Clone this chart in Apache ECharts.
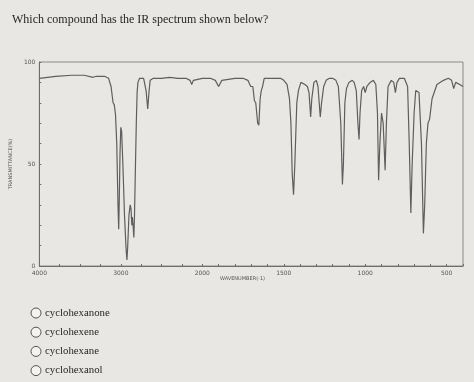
<!DOCTYPE html>
<html>
<head>
<meta charset="utf-8">
<script src="https://cdn.jsdelivr.net/npm/echarts@6/dist/echarts.min.js"></script>
<style>
html,body{margin:0;padding:0;background:#e9e7e3;}
#c{width:474px;height:382px;}
</style>
</head>
<body>
<div id="c"></div>
<script>
// ---- data ----
const questionText = "Which compound has the IR spectrum shown below?";
const answerOptions = ["cyclohexanone", "cyclohexene", "cyclohexane", "cyclohexanol"];
const xTickLabels = [4000, 3000, 2000, 1500, 1000, 500];
const yTickLabels = [0, 50, 100];
const xMinorTicks = [3750, 3500, 3250, 2750, 2500, 2250, 1900, 1800, 1700, 1600, 1400, 1300, 1200, 1100, 900, 800, 700, 600, 400];
const wavenumbers = [4000,3900,3800,3600,3450,3340,3300,3200,3150,3120,3095,3080,3065,3050,3035,3026,3020,3010,3000,2990,2975,2955,2935,2925,2915,2900,2885,2875,2865,2858,2850,2840,2832,2820,2810,2800,2790,2770,2720,2690,2670,2655,2640,2600,2500,2400,2300,2200,2150,2130,2110,2000,1950,1920,1900,1880,1800,1750,1720,1703,1690,1680,1672,1660,1653,1645,1638,1630,1620,1600,1560,1520,1500,1480,1465,1456,1448,1440,1432,1420,1410,1395,1370,1355,1345,1335,1328,1315,1300,1290,1276,1268,1255,1240,1220,1200,1180,1165,1150,1140,1134,1125,1115,1100,1080,1068,1055,1045,1038,1032,1022,1010,1000,990,970,950,935,925,918,910,900,890,878,870,860,840,825,815,805,790,760,740,730,720,712,700,690,670,655,643,635,625,615,605,590,560,520,490,470,457,445,420,400];
const transmittance = [92,92.5,93,93.5,93.5,92.5,93,93,92,88,80,79,74,60,30,18,30,55,68,66,50,25,8,3,10,25,30,28,20,24,20,14,25,50,70,85,90,92,92,86,77,85,91,92,92,92.5,92,92,91,89,91,92,92,91,88,91,92,92,91,88,88,81,80,70,69,82,86,88,92,92,92,92,91,89,82,70,45,35,50,80,86,90,89,88,85,73,82,90,91,88,73,80,88,91,92,92,91,88,70,40,50,80,87,90,91,90,86,70,62,75,86,88,85,88,90,91,89,75,42,60,75,70,47,70,88,91,90,85,90,92,92,88,60,26,50,75,86,85,60,16,30,60,70,72,82,89,91,92,91,87,90,89,88];

// ---- axis transform: 4000-2000 at half scale, 2000-400 full scale ----
function toU(w){ return w >= 2000 ? (4000 - w) / 2 : 1000 + (2000 - w); }
function toW(u){ return u <= 1000 ? 4000 - 2 * u : 2000 - (u - 1000); }

const seriesData = wavenumbers.map((w, i) => [toU(w), transmittance[i]]);
const majorU = xTickLabels.map(toU);
const allTicksU = xTickLabels.concat(xMinorTicks).map(toU).sort((a,b)=>a-b);

const chart = echarts.init(document.getElementById('c'), null, {renderer:'canvas'});
const serif = '"Liberation Serif","DejaVu Serif",serif';
const textCol = '#262626';

const graphics = [
  {type:'text', left:220, top:276, style:{text:'WAVENUMBER(-1)', fontSize:5, fill:'#555', fontFamily:'DejaVu Sans'}}
];
answerOptions.forEach((t, i) => {
  const cy = 313 + i * 19.2;
  graphics.push({type:'circle', shape:{cx:36, cy:cy, r:5}, style:{fill:'#f4f3f0', stroke:'#555', lineWidth:1}});
  graphics.push({type:'text', x:45, y:cy, style:{text:t, fontSize:10.8, fill:textCol, fontFamily:serif, verticalAlign:'middle'}});
});

chart.setOption({
  backgroundColor: '#e9e7e3',
  animation: false,
  title: {
    text: questionText, left: 7, top: 9,
    textStyle: {fontSize: 12, fontWeight: 'normal', color: textCol, fontFamily: serif}
  },
  grid: {left: 36, right: 11, top: 62, bottom: 116, show: true, borderColor: '#8a8a8a', borderWidth: 1, backgroundColor: 'transparent'},
  xAxis: {
    type: 'value', min: 0, max: toU(400),
    axisLine: {lineStyle: {color: '#6e6e6e', width: 1}},
    splitLine: {show: false},
    axisTick: {show: true, inside: true, length: 2, customValues: allTicksU, lineStyle: {color: '#6e6e6e'}},
    axisLabel: {customValues: majorU, formatter: v => String(Math.round(toW(v))), fontSize: 6, color: '#555', margin: 4, fontFamily: 'DejaVu Sans'}
  },
  yAxis: {
    type: 'value', min: 0, max: 100, interval: 10,
    name: 'TRANSMITTANCE(%)', nameLocation: 'middle', nameGap: 14, nameRotate: 90,
    nameTextStyle: {fontSize: 5, color: '#555', fontFamily: 'DejaVu Sans'},
    axisLine: {show: true, lineStyle: {color: '#6e6e6e', width: 1}},
    splitLine: {show: false},
    axisTick: {show: true, inside: true, length: 2, lineStyle: {color: '#6e6e6e'}},
    axisLabel: {customValues: yTickLabels, fontSize: 6, color: '#555', margin: 4, fontFamily: 'DejaVu Sans'}
  },
  series: [{
    type: 'line', data: seriesData, showSymbol: false, symbol: 'none',
    lineStyle: {color: '#5e5e5e', width: 1.2}
  }],
  graphic: graphics
});
</script>
</body>
</html>
